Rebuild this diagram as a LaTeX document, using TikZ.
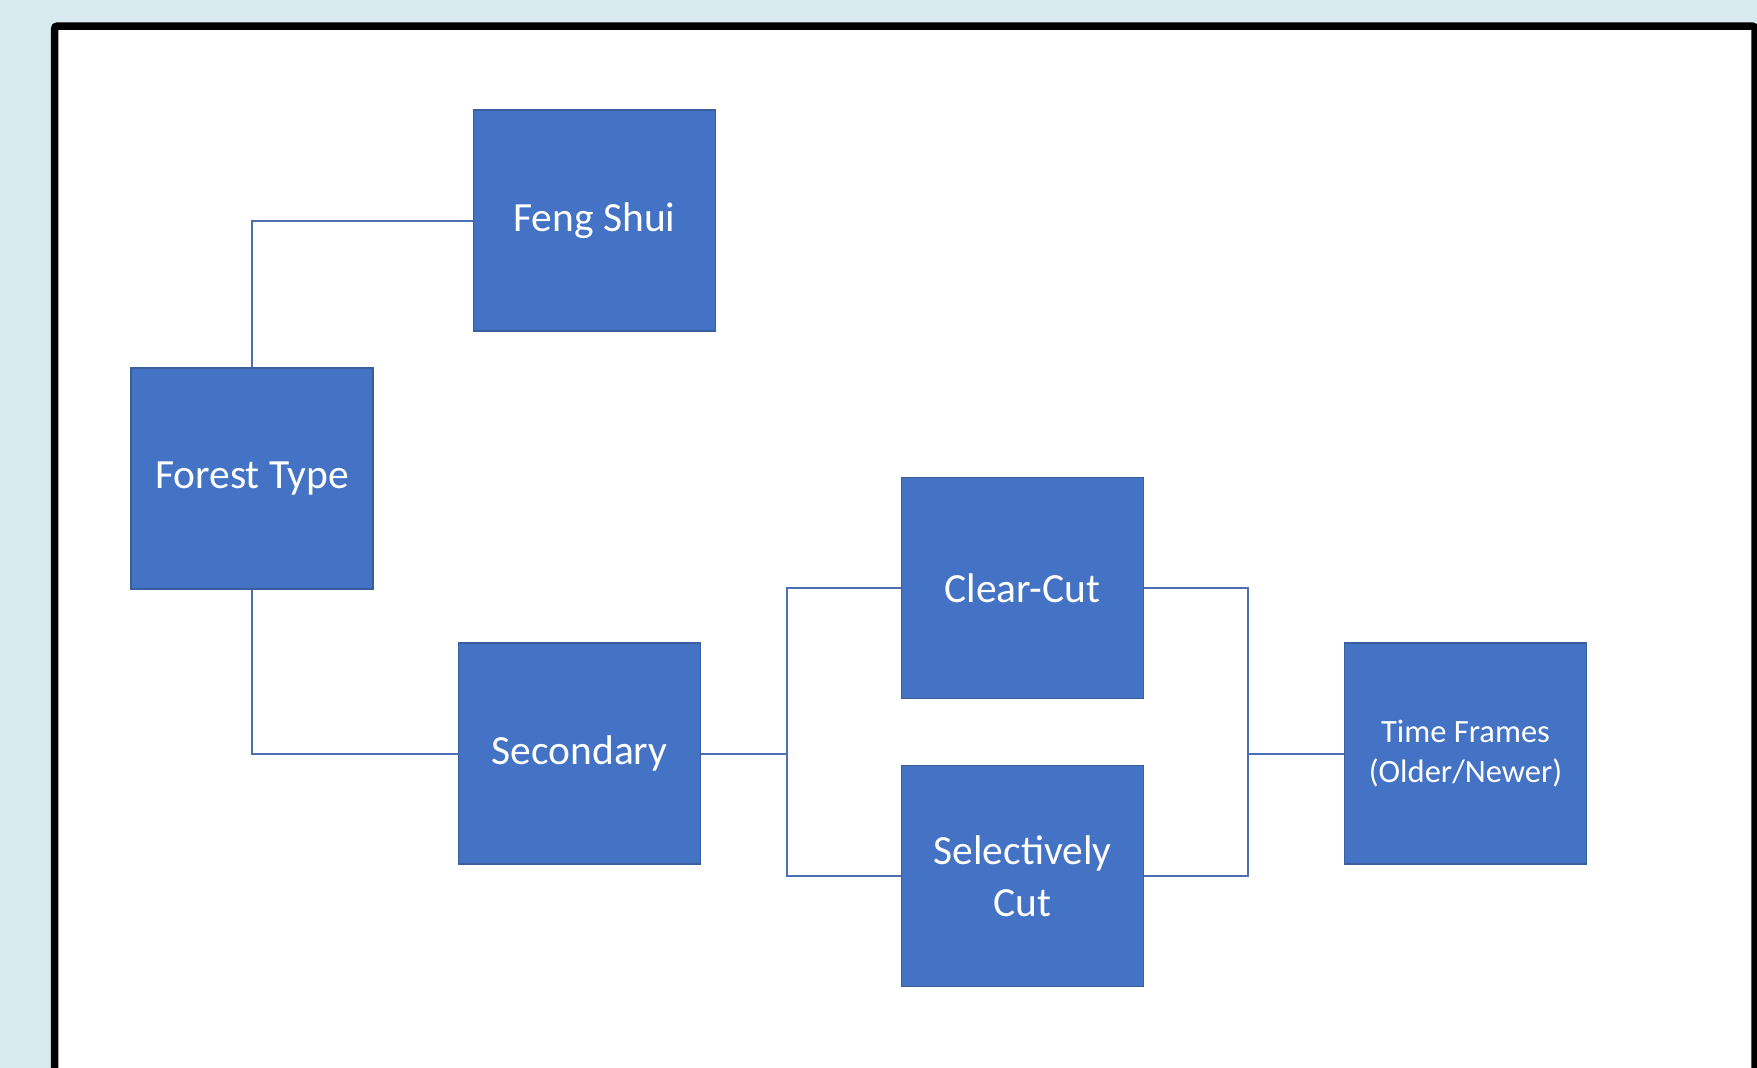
\documentclass[tikz,border=0pt]{standalone}
\usepackage{fontspec}
\setmainfont{Carlito}
\definecolor{pagebg}{HTML}{DAEBEF}
\definecolor{boxfill}{HTML}{4472C4}
\definecolor{boxedge}{HTML}{3A5F9F}
\definecolor{linkcol}{HTML}{4F6FB5}
\tikzset{
  stepbox/.style={rectangle, fill=boxfill, draw=boxedge, line width=1.5pt,
    minimum width=242pt, minimum height=221pt, inner sep=0pt,
    text=white, align=center, font=\fontsize{41.5}{52}\selectfont},
  smallbox/.style={stepbox, font=\fontsize{32.5}{40}\selectfont},
  link/.style={draw=linkcol, line width=2pt}
}
\begin{document}
\begin{tikzpicture}[x=1pt, y=-1pt]
  % page background and framed sheet
  \fill[pagebg] (0,0) rectangle (1757,1068);
  \useasboundingbox (0,0) rectangle (1757,1068);
  \filldraw[fill=white, draw=black, line width=7.5pt, rounded corners=3pt]
    (54.5,26) rectangle (1755,1110);

  % boxes
  \node[stepbox] (fs) at (594.5,220.5) {Feng Shui};
  \node[stepbox] (ft) at (252,478.5) {Forest Type};
  \node[stepbox] (sec) at (579.5,753.5) {Secondary};
  \node[stepbox] (cc) at (1022.5,588) {Clear-Cut};
  \node[stepbox] (sc) at (1022.5,876) {Selectively\\Cut};
  \node[smallbox] (tf) at (1465.5,753.5) {Time Frames\\(Older/Newer)};

  % junction points of the bracket connectors
  \coordinate (j1) at (787,753.5);
  \coordinate (j2) at (1247.5,753.5);

  % connectors
  \draw[link] (ft.north) |- (fs.west);
  \draw[link] (ft.south) |- (sec.west);
  \draw[link] (sec.east) -- (j1);
  \draw[link] (j1) |- (cc.west);
  \draw[link] (j1) |- (sc.west);
  \draw[link] (cc.east) -| (j2);
  \draw[link] (sc.east) -| (j2);
  \draw[link] (j2) -- (tf.west);
\end{tikzpicture}
\end{document}
